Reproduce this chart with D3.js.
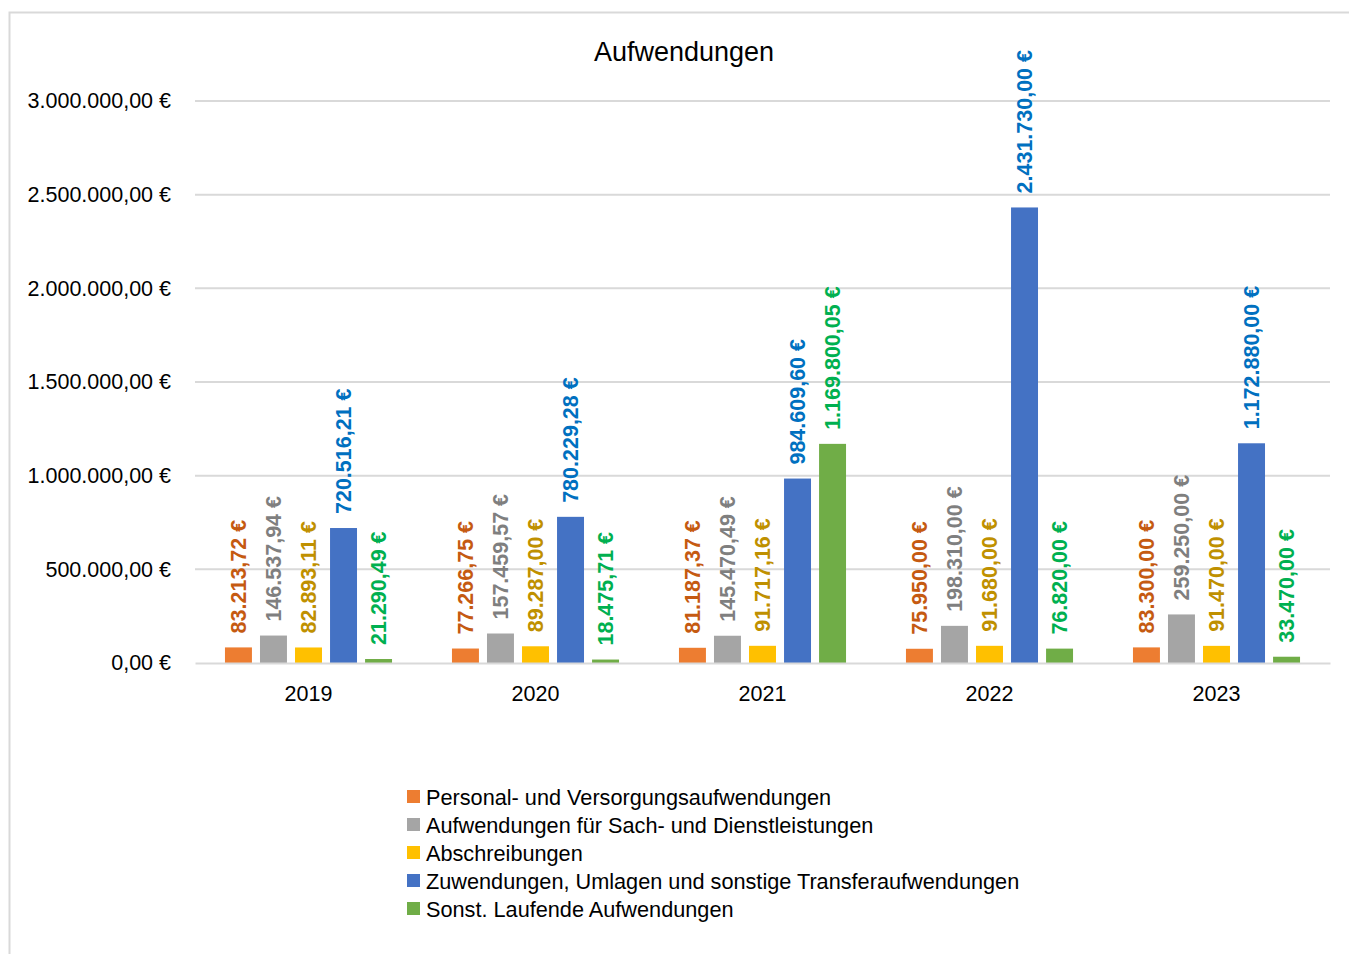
<!DOCTYPE html>
<html>
<head>
<meta charset="utf-8">
<script src="https://cdn.jsdelivr.net/npm/d3@7"></script>
<style>
  body { margin: 0; background: #fff; }
  svg { font-family: "Liberation Sans", Arial, sans-serif; }
</style>
</head>
<body>
<div id="chart"></div>
<script>
// data
const years = ["2019", "2020", "2021", "2022", "2023"];
const seriesNames = [
  "Personal- und Versorgungsaufwendungen",
  "Aufwendungen für Sach- und Dienstleistungen",
  "Abschreibungen",
  "Zuwendungen, Umlagen und sonstige Transferaufwendungen",
  "Sonst. Laufende Aufwendungen"
];
const personal   = [83213.72, 77266.75, 81187.37, 75950.00, 83300.00];
const sach       = [146537.94, 157459.57, 145470.49, 198310.00, 259250.00];
const abschr     = [82893.11, 89287.00, 91717.16, 91680.00, 91470.00];
const zuwend     = [720516.21, 780229.28, 984609.60, 2431730.00, 1172880.00];
const sonst      = [21290.49, 18475.71, 1169800.05, 76820.00, 33470.00];
const yTicks = [0, 500000, 1000000, 1500000, 2000000, 2500000, 3000000];

const barColors   = ["#ED7D31", "#A5A5A5", "#FFC000", "#4472C4", "#70AD47"];
const labelColors = ["#C55A11", "#7F7F7F", "#BF9000", "#0070C0", "#00B050"];

const allSeries = [personal, sach, abschr, zuwend, sonst];

const de = d3.formatLocale({ decimal: ",", thousands: ".", grouping: [3], currency: ["", " €"] });
const fmt = v => de.format(",.2f")(v) + " €";

const W = 1349, H = 954;
const plotL = 195, plotR = 1330, plotT = 101, plotB = 663;

const svg = d3.select("#chart").append("svg")
  .attr("width", W).attr("height", H);

// chart frame
svg.append("rect")
  .attr("x", 9.5).attr("y", 12.5)
  .attr("width", W + 20).attr("height", H + 20)
  .attr("fill", "none").attr("stroke", "#d9d9d9").attr("stroke-width", 2);

const x0 = d3.scaleBand().domain(years).range([plotL, plotR])
  .paddingInner(0.264).paddingOuter(0.132);
const x1 = d3.scaleBand().domain(d3.range(5)).range([0, x0.bandwidth()])
  .paddingInner(0.23).paddingOuter(0);
const y = d3.scaleLinear().domain([0, 3000000]).range([plotB, plotT]);

// gridlines
svg.append("g").selectAll("line").data(yTicks.slice(1)).enter().append("line")
  .attr("x1", plotL).attr("x2", plotR)
  .attr("y1", d => y(d)).attr("y2", d => y(d))
  .attr("stroke", "#d9d9d9").attr("stroke-width", 2);

// y axis labels
const yAxis = svg.append("g").attr("transform", `translate(${plotL},0)`)
  .call(d3.axisLeft(y).tickValues(yTicks).tickFormat(fmt).tickSize(0).tickPadding(24));
yAxis.select(".domain").remove();
yAxis.selectAll("text").attr("font-size", 21.5).attr("fill", "#000")
  .attr("font-family", "Liberation Sans, Arial, sans-serif");

// bars
const rows = [];
years.forEach((yr, i) => {
  allSeries.forEach((s, j) => rows.push({ year: yr, s: j, v: s[i] }));
});

svg.append("g").selectAll("rect").data(rows).enter().append("rect")
  .attr("x", d => x0(d.year) + x1(d.s))
  .attr("y", d => y(d.v))
  .attr("width", x1.bandwidth())
  .attr("height", d => y(0) - y(d.v))
  .attr("fill", d => barColors[d.s]);

// category axis
const xAxis = svg.append("g").attr("transform", `translate(0,${plotB})`)
  .call(d3.axisBottom(x0).tickSize(0).tickPadding(23));
xAxis.select(".domain").attr("stroke", "#d9d9d9").attr("stroke-width", 2);
xAxis.selectAll("text").attr("font-size", 21.5).attr("fill", "#000")
  .attr("font-family", "Liberation Sans, Arial, sans-serif");

// data labels
svg.append("g").selectAll("text").data(rows).enter().append("text")
  .attr("transform", d => {
    const cx = x0(d.year) + x1(d.s) + x1.bandwidth() / 2;
    return `translate(${cx},${y(d.v) - 14}) rotate(-90)`;
  })
  .attr("dy", "0.36em")
  .attr("font-size", 21.5).attr("font-weight", "bold")
  .attr("fill", d => labelColors[d.s])
  .text(d => fmt(d.v));

// title
svg.append("text").attr("x", 684).attr("y", 61).attr("text-anchor", "middle")
  .attr("font-size", 27).attr("fill", "#000").text("Aufwendungen");

// legend
const lg = svg.append("g").attr("transform", "translate(407,797)");
const item = lg.selectAll("g").data(seriesNames).enter().append("g")
  .attr("transform", (d, i) => `translate(0,${i * 28})`);
item.append("rect").attr("x", 0).attr("y", -7).attr("width", 13).attr("height", 13)
  .attr("fill", (d, i) => barColors[i]);
item.append("text").attr("x", 19).attr("dy", "0.35em")
  .attr("font-size", 21.7).attr("fill", "#000").text(d => d);
</script>
</body>
</html>
